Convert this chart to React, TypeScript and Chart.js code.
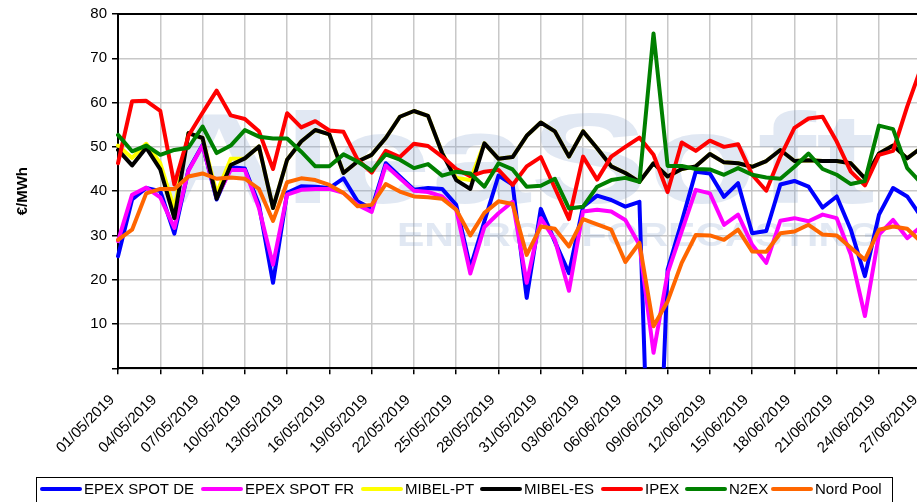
import React, { useEffect, useRef } from 'react';
import { Chart, registerables } from 'chart.js';

Chart.register(...registerables);

const dates = [
  '01/05/2019', '02/05/2019', '03/05/2019', '04/05/2019', '05/05/2019', '06/05/2019', '07/05/2019', '08/05/2019',
  '09/05/2019', '10/05/2019', '11/05/2019', '12/05/2019', '13/05/2019', '14/05/2019', '15/05/2019', '16/05/2019',
  '17/05/2019', '18/05/2019', '19/05/2019', '20/05/2019', '21/05/2019', '22/05/2019', '23/05/2019', '24/05/2019',
  '25/05/2019', '26/05/2019', '27/05/2019', '28/05/2019', '29/05/2019', '30/05/2019', '31/05/2019',
  '01/06/2019', '02/06/2019', '03/06/2019', '04/06/2019', '05/06/2019', '06/06/2019', '07/06/2019', '08/06/2019',
  '09/06/2019', '10/06/2019', '11/06/2019', '12/06/2019', '13/06/2019', '14/06/2019', '15/06/2019', '16/06/2019',
  '17/06/2019', '18/06/2019', '19/06/2019', '20/06/2019', '21/06/2019', '22/06/2019', '23/06/2019', '24/06/2019',
  '25/06/2019', '26/06/2019', '27/06/2019',
];

const epexDE = [
  25.3, 38.1, 40.7, 40.0, 30.4, 44.8, 50.4, 38.1, 45.4, 45.1, 37.0, 19.3, 39.6, 41.1, 41.0, 40.7,
  42.9, 37.7, 36.0, 46.3, 43.3, 40.3, 40.7, 40.5, 36.9, 22.7, 33.2, 43.5, 41.5, 15.9, 36.0,
  28.6, 21.5, 36.5, 39.0, 38.0, 36.5, 37.6, -60.0, 22.3, 33.1, 44.4, 44.0, 38.7, 41.8, 30.5, 31.0,
  41.5, 42.3, 41.0, 36.3, 38.8, 31.3, 20.8, 34.7, 40.7, 38.8, 34.2,
];

const epexFR = [
  28.7, 39.2, 40.8, 38.6, 31.7, 44.6, 50.3, 38.6, 44.8, 44.8, 36.2, 23.4, 39.2, 40.3, 40.5, 40.5,
  39.6, 36.9, 35.3, 45.8, 42.9, 40.1, 39.8, 38.8, 35.8, 21.4, 31.9, 35.0, 37.6, 19.3, 33.9,
  29.0, 17.5, 35.4, 35.8, 35.4, 33.5, 27.9, 3.5, 21.5, 30.9, 40.3, 39.5, 32.4, 34.7, 27.9, 23.8,
  33.3, 33.9, 33.2, 34.7, 33.9, 25.7, 11.8, 30.2, 33.5, 29.4, 32.0,
];

const mibelPT = [
  50.3, 47.5, 50.7, 46.3, 36.0, 53.1, 52.0, 39.5, 47.3, 47.4, 50.1, 36.2, 47.1, 51.2, 53.8, 52.8,
  44.1, 46.7, 48.2, 52.0, 56.8, 58.1, 57.0, 48.6, 43.0, 42.5, 50.8, 47.3, 47.7, 52.5, 55.5,
  53.5, 47.8, 53.5, 49.7, 45.6, 44.1, 42.1, 46.3, 43.3, 45.0, 45.6, 48.4, 46.5, 46.3, 45.5, 46.8,
  49.3, 46.8, 47.0, 46.8, 46.8, 46.3, 42.9, 48.5, 50.3, 47.4, 49.8,
];

const mibelES = [
  49.3, 45.8, 49.8, 44.9, 33.9, 53.1, 52.0, 38.3, 45.9, 47.4, 50.1, 36.2, 47.1, 51.2, 53.8, 52.8,
  44.1, 46.7, 48.2, 52.0, 56.8, 58.1, 57.0, 48.6, 42.5, 40.5, 50.8, 47.3, 47.7, 52.5, 55.5,
  53.5, 47.8, 53.5, 49.7, 45.6, 44.1, 42.1, 46.3, 43.3, 45.0, 45.6, 48.4, 46.5, 46.3, 45.5, 46.8,
  49.3, 46.8, 47.0, 46.8, 46.8, 46.3, 42.9, 48.5, 50.3, 47.4, 49.8,
];

const ipex = [
  46.3, 60.3, 60.4, 58.1, 41.5, 52.5, 57.7, 62.7, 57.1, 56.3, 53.5, 45.0, 57.6, 54.4, 55.8, 53.7,
  53.4, 47.1, 44.2, 49.1, 47.7, 50.7, 50.2, 47.8, 45.0, 43.4, 44.4, 44.8, 41.4, 45.6, 47.7,
  40.7, 33.7, 47.8, 42.6, 47.8, 50.0, 52.1, 48.2, 39.8, 51.0, 49.1, 51.4, 50.0, 50.6, 43.7, 40.1,
  47.8, 54.3, 56.4, 56.8, 51.2, 44.4, 41.3, 48.2, 49.1, 59.1, 68.0,
];

const n2ex = [
  52.7, 49.0, 50.3, 48.2, 49.3, 49.8, 54.6, 48.6, 50.3, 53.8, 52.3, 51.9, 51.9, 48.9, 45.6, 45.6,
  48.3, 46.7, 44.6, 48.3, 47.1, 45.2, 46.1, 43.5, 44.4, 44.0, 41.0, 46.3, 44.9, 41.0, 41.2,
  42.8, 36.1, 36.5, 41.0, 42.5, 43.0, 42.1, 75.6, 45.7, 45.7, 45.0, 44.9, 43.7, 45.2, 43.7, 43.1,
  42.8, 45.5, 48.5, 45.0, 43.7, 41.6, 42.3, 54.8, 54.0, 45.2, 41.8,
];

const nordPool = [
  29.0, 31.3, 39.5, 40.5, 40.5, 43.3, 44.0, 42.8, 43.1, 42.8, 40.5, 33.3, 42.0, 42.9, 42.5, 41.4,
  39.6, 36.6, 36.9, 41.6, 39.9, 38.8, 38.6, 38.3, 35.8, 30.0, 35.1, 37.7, 37.1, 25.6, 32.0,
  31.5, 27.5, 33.7, 32.5, 31.3, 24.0, 28.3, 9.5, 15.1, 23.8, 30.1, 30.0, 29.0, 31.3, 26.4, 26.3,
  30.5, 30.9, 32.4, 30.2, 30.0, 27.2, 24.5, 31.3, 32.0, 31.5, 28.5,
];

const seriesNames = ['EPEX SPOT DE', 'EPEX SPOT FR', 'MIBEL-PT', 'MIBEL-ES', 'IPEX', 'N2EX', 'Nord Pool'];
const seriesColors = ['#0000FF', '#FF00FF', '#FFFF00', '#000000', '#FF0000', '#008000', '#FF6600'];

const yTitle = '€/MWh';
const watermarkMain = 'AleaSoft';
const watermarkSub = 'ENERGY FORECASTING';

const FONT = "'Liberation Sans', Arial, Helvetica, sans-serif";

const legendStarts = [40, 201, 361, 480, 601, 685, 771];

const decorPlugin = {
  id: 'decor',
  beforeDatasetsDraw(chart: any) {
    const { ctx, chartArea } = chart;
    ctx.save();
    ctx.beginPath();
    ctx.rect(chartArea.left, chartArea.top, chartArea.right - chartArea.left, chartArea.bottom - chartArea.top);
    ctx.clip();
    ctx.fillStyle = 'rgba(130,158,205,0.24)';
    ctx.save();
    ctx.font = `bold 128px ${FONT}`;
    ctx.textBaseline = 'alphabetic';
    const w = ctx.measureText(watermarkMain).width;
    ctx.translate(155, 203);
    ctx.scale(720 / w, 1);
    ctx.fillText(watermarkMain, 0, 0);
    ctx.restore();
    ctx.save();
    ctx.font = `bold 34px ${FONT}`;
    const w2 = ctx.measureText(watermarkSub).width;
    ctx.translate(397, 246);
    ctx.scale(483 / w2, 1);
    ctx.fillText(watermarkSub, 0, 0);
    ctx.restore();
    ctx.restore();
  },
  afterDatasetsDraw(chart: any) {
    const { ctx, chartArea } = chart;
    ctx.save();
    ctx.strokeStyle = '#000';
    ctx.lineWidth = 2;
    ctx.beginPath();
    ctx.moveTo(chartArea.left - 1, chartArea.top);
    ctx.lineTo(chartArea.right + 1, chartArea.top);
    ctx.lineTo(chartArea.right, chartArea.bottom);
    ctx.stroke();
    ctx.restore();
  },
  afterDraw(chart: any) {
    const { ctx } = chart;
    ctx.save();
    ctx.strokeStyle = '#000';
    ctx.lineWidth = 1;
    ctx.strokeRect(36.5, 477.5, 856, 30);
    ctx.font = `15px ${FONT}`;
    ctx.textBaseline = 'middle';
    ctx.textAlign = 'left';
    seriesNames.forEach((name, i) => {
      const x = legendStarts[i];
      ctx.strokeStyle = seriesColors[i];
      ctx.lineWidth = 4;
      ctx.lineCap = 'round';
      ctx.beginPath();
      ctx.moveTo(x + 2, 489);
      ctx.lineTo(x + 40, 489);
      ctx.stroke();
      ctx.fillStyle = '#000';
      ctx.fillText(name, x + 44, 490);
    });
    ctx.restore();
  },
};

export default function App() {
  const ref = useRef<HTMLCanvasElement>(null);

  useEffect(() => {
    const seriesData = [epexDE, epexFR, mibelPT, mibelES, ipex, n2ex, nordPool];
    const chart = new Chart(ref.current as HTMLCanvasElement, {
      type: 'line',
      data: {
        labels: dates,
        datasets: seriesNames.map((name, i) => ({
          label: name,
          data: seriesData[i],
          borderColor: seriesColors[i],
          backgroundColor: seriesColors[i],
          borderWidth: 4,
          pointRadius: 0,
          pointHoverRadius: 0,
          tension: 0,
          fill: false,
          borderJoinStyle: 'round' as const,
          borderCapStyle: 'round' as const,
          order: seriesNames.length - i,
        })),
      },
      options: {
        animation: false,
        responsive: true,
        maintainAspectRatio: false,
        events: [],
        layout: { padding: { top: 2, right: 0, bottom: 34, left: 0 } },
        plugins: {
          legend: { display: false },
          tooltip: { enabled: false },
        },
        scales: {
          x: {
            ticks: {
              autoSkip: false,
              maxRotation: 45,
              minRotation: 45,
              color: '#000',
              padding: 11,
              font: { family: FONT, size: 15 },
              callback: (_v: any, index: number) => (index % 3 === 0 ? dates[index] + '  ' : ''),
            },
            grid: {
              color: (c: any) => (c.index % 3 === 0 ? '#c8c8c8' : 'rgba(0,0,0,0)'),
              tickColor: (c: any) => (c.index % 3 === 0 ? '#000' : 'rgba(0,0,0,0)'),
              lineWidth: 1.5,
              tickLength: 6,
              tickWidth: 1.5,
            },
            border: { color: '#000', width: 2 },
          },
          y: {
            min: 0,
            max: 80,
            ticks: {
              stepSize: 10,
              color: '#000',
              padding: 5,
              font: { family: FONT, size: 15 },
              callback: (v: any) => (v === 0 ? '' : v),
            },
            grid: {
              color: '#c8c8c8',
              lineWidth: 1.5,
              tickColor: '#000',
              tickLength: 6,
              tickWidth: 1.5,
            },
            border: { color: '#000', width: 2 },
            title: {
              display: true,
              text: yTitle,
              color: '#000',
              font: { family: FONT, size: 15, weight: 'bold' },
              padding: { top: 14, bottom: 0 },
            },
            afterFit: (scale: any) => {
              scale.width = 118;
            },
          },
        },
      },
      plugins: [decorPlugin],
    });
    return () => chart.destroy();
  }, []);

  return (
    <div style={{ position: 'absolute', left: 0, top: 0, width: 917, height: 502, overflow: 'hidden', background: '#fff' }}>
      <div style={{ position: 'relative', width: 945, height: 502 }}>
        <canvas ref={ref} />
      </div>
    </div>
  );
}
